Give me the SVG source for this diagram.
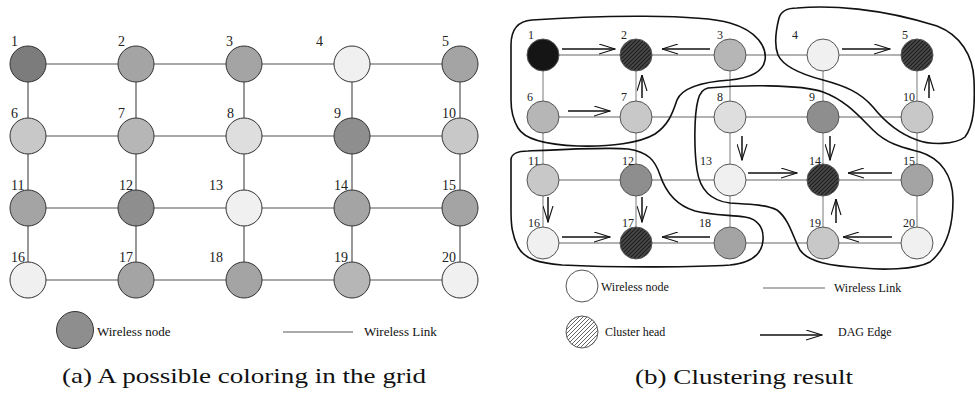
<svg xmlns="http://www.w3.org/2000/svg" width="975" height="396" viewBox="0 0 975 396">
  <style>
    .lbl { font-family: "Liberation Serif", "Times New Roman", serif; font-size: 14px; fill: #222; }
    .lblb { font-family: "Liberation Serif", "Times New Roman", serif; font-size: 12px; fill: #222; }
    .leg { font-family: "Liberation Serif", "Times New Roman", serif; font-size: 13px; fill: #111; }
    .legb { font-family: "Liberation Serif", "Times New Roman", serif; font-size: 12px; fill: #111; }
    .cap { font-family: "Liberation Serif", "DejaVu Serif", serif; font-size: 22px; fill: #111; }
    .linkA { stroke: #555; stroke-width: 1.2; fill: none; }
    .linkB { stroke: #999; stroke-width: 1.3; fill: none; }
    .na { stroke: #333; stroke-width: 1; }
    .nb { stroke: #555; stroke-width: 1; }
    .g1 { fill: #7c7c7c; }
    .g2 { fill: #8e8e8e; }
    .g3 { fill: #a4a4a4; }
    .g4 { fill: #b6b6b6; }
    .g5 { fill: #c8c8c8; }
    .g6 { fill: #dedede; }
    .g7 { fill: #f0f0f0; }
    .blk { fill: #151515; }
    .head { fill: url(#headHatch); }
    .cluster { fill: none; stroke: #111; stroke-width: 1.6; }
    .dag { stroke: #111; stroke-width: 1.5; fill: none; marker-end: url(#vee); }
  </style>
  <defs>
    <pattern id="headHatch" width="4" height="4" patternUnits="userSpaceOnUse">
      <rect width="4" height="4" fill="#4a4a4a"/>
      <path d="M-1,1 L1,-1 M0,4 L4,0 M3,5 L5,3" stroke="#1c1c1c" stroke-width="1.2"/>
    </pattern>
    <pattern id="legHatch" width="4" height="4" patternUnits="userSpaceOnUse">
      <rect width="4" height="4" fill="#fff"/>
      <path d="M-1,1 L1,-1 M0,4 L4,0 M3,5 L5,3" stroke="#555" stroke-width="0.9"/>
    </pattern>
    <marker id="vee" viewBox="0 0 17 11" refX="16.5" refY="5.5" markerWidth="17" markerHeight="11" markerUnits="userSpaceOnUse" orient="auto">
      <path d="M0.5,0.5 L16.5,5.5 L0.5,10.5" fill="none" stroke="#111" stroke-width="1.1"/>
    </marker>
  </defs>

  <!-- ===== (a) coloured grid ===== -->
  <g id="linksA">
    <path class="linkA" d="M28,64 H460 M28,136 H460 M28,208 H460 M28,280 H460 M28,64 V280 M136,64 V280 M244,64 V280 M352,64 V280 M460,64 V280"/>
  </g>
  <g id="a1"><circle class="na g1" cx="28" cy="64" r="18"/><text class="lbl" x="11" y="46">1</text></g>
  <g id="a2"><circle class="na g3" cx="136" cy="64" r="18"/><text class="lbl" x="118" y="46">2</text></g>
  <g id="a3"><circle class="na g3" cx="244" cy="64" r="18"/><text class="lbl" x="226" y="46">3</text></g>
  <g id="a4"><circle class="na g7" cx="352" cy="64" r="18"/><text class="lbl" x="316" y="46">4</text></g>
  <g id="a5"><circle class="na g3" cx="460" cy="64" r="18"/><text class="lbl" x="442" y="46">5</text></g>
  <g id="a6"><circle class="na g5" cx="28" cy="136" r="18"/><text class="lbl" x="11" y="118">6</text></g>
  <g id="a7"><circle class="na g4" cx="136" cy="136" r="18"/><text class="lbl" x="118" y="118">7</text></g>
  <g id="a8"><circle class="na g6" cx="244" cy="136" r="18"/><text class="lbl" x="227" y="118">8</text></g>
  <g id="a9"><circle class="na g2" cx="352" cy="136" r="18"/><text class="lbl" x="334" y="118">9</text></g>
  <g id="a10"><circle class="na g5" cx="460" cy="136" r="18"/><text class="lbl" x="442" y="118">10</text></g>
  <g id="a11"><circle class="na g3" cx="28" cy="208" r="18"/><text class="lbl" x="11" y="190">11</text></g>
  <g id="a12"><circle class="na g2" cx="136" cy="208" r="18"/><text class="lbl" x="119" y="190">12</text></g>
  <g id="a13"><circle class="na g7" cx="244" cy="208" r="18"/><text class="lbl" x="209" y="190">13</text></g>
  <g id="a14"><circle class="na g3" cx="352" cy="208" r="18"/><text class="lbl" x="334" y="190">14</text></g>
  <g id="a15"><circle class="na g3" cx="460" cy="208" r="18"/><text class="lbl" x="442" y="190">15</text></g>
  <g id="a16"><circle class="na g7" cx="28" cy="280" r="18"/><text class="lbl" x="11" y="262">16</text></g>
  <g id="a17"><circle class="na g3" cx="136" cy="280" r="18"/><text class="lbl" x="119" y="262">17</text></g>
  <g id="a18"><circle class="na g3" cx="244" cy="280" r="18"/><text class="lbl" x="209" y="262">18</text></g>
  <g id="a19"><circle class="na g4" cx="352" cy="280" r="18"/><text class="lbl" x="334" y="262">19</text></g>
  <g id="a20"><circle class="na g7" cx="460" cy="280" r="18"/><text class="lbl" x="442" y="262">20</text></g>

  <g id="legendA">
    <circle class="na g2" cx="75" cy="330" r="18.5"/>
    <text class="leg" x="97" y="336">Wireless node</text>
    <line class="linkA" x1="283" y1="332" x2="353" y2="332"/>
    <text class="leg" x="364" y="336">Wireless Link</text>
  </g>
  <text class="cap" x="62" y="383" textLength="364" lengthAdjust="spacingAndGlyphs">(a) A possible coloring in the grid</text>

  <!-- ===== (b) clustering ===== -->
  <g id="linksB">
    <path class="linkB" d="M543,55 H917 M543,117 H917 M543,180 H917 M543,243 H917 M543,55 V243 M636,55 V243 M730,55 V243 M823,55 V243 M917,55 V243"/>
  </g>

  <g id="clusters">
    <path id="clusterA" class="cluster" d="M532,20 C600,15 700,14 730,23 C758,31 767,48 765,60 C763,72 750,78 730,80 C700,82 682,88 677,100 C672,115 668,125 655,134 C640,143 610,147 578,146 C550,145 525,140 518,128 C512,118 511,110 511,100 L511,45 C511,30 518,21 532,20 Z"/>
    <path id="clusterB" class="cluster" d="M797,8 C830,5 880,8 937,26 C960,35 973,55 974,80 C975,105 974,125 965,137 C955,145 930,145 917,140 C900,134 885,122 873,107 C860,92 845,86 823,80 C800,74 783,66 778,55 C774,45 776,30 779,18 C781,11 788,8 797,8 Z"/>
    <path id="clusterC" class="cluster" d="M708,88 C740,85 800,84 823,92 C845,100 858,115 873,130 C888,145 905,148 920,152 C940,158 953,175 953,200 C953,228 945,250 930,262 C915,270 880,270 863,268 C830,266 808,262 800,250 C793,238 790,220 777,210 C765,204 745,204 730,203 C712,201 700,190 697,170 C694,150 694,115 698,100 C700,92 703,89 708,88 Z"/>
    <path id="clusterD" class="cluster" d="M528,151 C570,149 610,147 628,149 C648,152 655,160 660,175 C665,190 675,205 695,211 C710,215 730,215 745,217 C758,219 764,228 763,240 C762,255 750,263 730,265 C700,267 620,268 562,265 C540,263 525,260 518,247 C512,235 511,225 511,210 L511,160 C511,154 518,151 528,151 Z"/>
  </g>

  <g id="b1"><circle class="nb blk" cx="543" cy="55" r="16"/><text class="lblb" x="528" y="39">1</text></g>
  <g id="b2"><circle class="nb head" cx="636" cy="55" r="16"/><text class="lblb" x="621" y="39">2</text></g>
  <g id="b3"><circle class="nb g4" cx="730" cy="55" r="16"/><text class="lblb" x="717" y="39">3</text></g>
  <g id="b4"><circle class="nb g7" cx="823" cy="55" r="16"/><text class="lblb" x="792" y="39">4</text></g>
  <g id="b5"><circle class="nb head" cx="917" cy="55" r="16"/><text class="lblb" x="902" y="39">5</text></g>
  <g id="b6"><circle class="nb g4" cx="543" cy="117" r="16"/><text class="lblb" x="527" y="101">6</text></g>
  <g id="b7"><circle class="nb g5" cx="636" cy="117" r="16"/><text class="lblb" x="621" y="101">7</text></g>
  <g id="b8"><circle class="nb g6" cx="730" cy="117" r="16"/><text class="lblb" x="717" y="101">8</text></g>
  <g id="b9"><circle class="nb g2" cx="823" cy="117" r="16"/><text class="lblb" x="809" y="101">9</text></g>
  <g id="b10"><circle class="nb g5" cx="917" cy="117" r="16"/><text class="lblb" x="903" y="101">10</text></g>
  <g id="b11"><circle class="nb g5" cx="543" cy="180" r="16"/><text class="lblb" x="528" y="165">11</text></g>
  <g id="b12"><circle class="nb g2" cx="636" cy="180" r="16"/><text class="lblb" x="622" y="165">12</text></g>
  <g id="b13"><circle class="nb g7" cx="730" cy="180" r="16"/><text class="lblb" x="700" y="165">13</text></g>
  <g id="b14"><circle class="nb head" cx="823" cy="180" r="16"/><text class="lblb" x="809" y="165">14</text></g>
  <g id="b15"><circle class="nb g3" cx="917" cy="180" r="16"/><text class="lblb" x="903" y="165">15</text></g>
  <g id="b16"><circle class="nb g7" cx="543" cy="243" r="16"/><text class="lblb" x="528" y="227">16</text></g>
  <g id="b17"><circle class="nb head" cx="636" cy="243" r="16"/><text class="lblb" x="622" y="227">17</text></g>
  <g id="b18"><circle class="nb g3" cx="730" cy="243" r="16"/><text class="lblb" x="699" y="227">18</text></g>
  <g id="b19"><circle class="nb g5" cx="823" cy="243" r="16"/><text class="lblb" x="809" y="227">19</text></g>
  <g id="b20"><circle class="nb g7" cx="917" cy="243" r="16"/><text class="lblb" x="903" y="227">20</text></g>

  <g id="dagEdges">
    <line class="dag" x1="562" y1="49" x2="615" y2="49"/>
    <line class="dag" x1="710" y1="49" x2="662" y2="49"/>
    <line class="dag" x1="842" y1="49" x2="890" y2="49"/>
    <line class="dag" x1="568" y1="111" x2="610" y2="111"/>
    <line class="dag" x1="642" y1="98" x2="642" y2="75"/>
    <line class="dag" x1="929" y1="98" x2="929" y2="75"/>
    <line class="dag" x1="742" y1="136" x2="742" y2="160"/>
    <line class="dag" x1="830" y1="136" x2="830" y2="160"/>
    <line class="dag" x1="748" y1="173" x2="797" y2="173"/>
    <line class="dag" x1="892" y1="173" x2="848" y2="173"/>
    <line class="dag" x1="836" y1="223" x2="836" y2="199"/>
    <line class="dag" x1="548" y1="197" x2="548" y2="222"/>
    <line class="dag" x1="642" y1="197" x2="642" y2="222"/>
    <line class="dag" x1="562" y1="237" x2="610" y2="237"/>
    <line class="dag" x1="710" y1="237" x2="662" y2="237"/>
    <line class="dag" x1="892" y1="237" x2="843" y2="237"/>
  </g>

  <g id="legendB">
    <circle class="nb" fill="#fff" cx="582" cy="286" r="16"/>
    <text class="legb" x="601" y="291">Wireless node</text>
    <line class="linkB" x1="763" y1="288" x2="825" y2="288"/>
    <text class="legb" x="834" y="292">Wireless Link</text>
    <circle class="nb" fill="url(#legHatch)" cx="582" cy="332" r="16"/>
    <text class="legb" x="605" y="336">Cluster head</text>
    <line class="dag" x1="760" y1="335" x2="822" y2="335"/>
    <text class="legb" x="838" y="336">DAG Edge</text>
  </g>
  <text class="cap" x="635" y="384" textLength="218" lengthAdjust="spacingAndGlyphs">(b) Clustering result</text>
</svg>
